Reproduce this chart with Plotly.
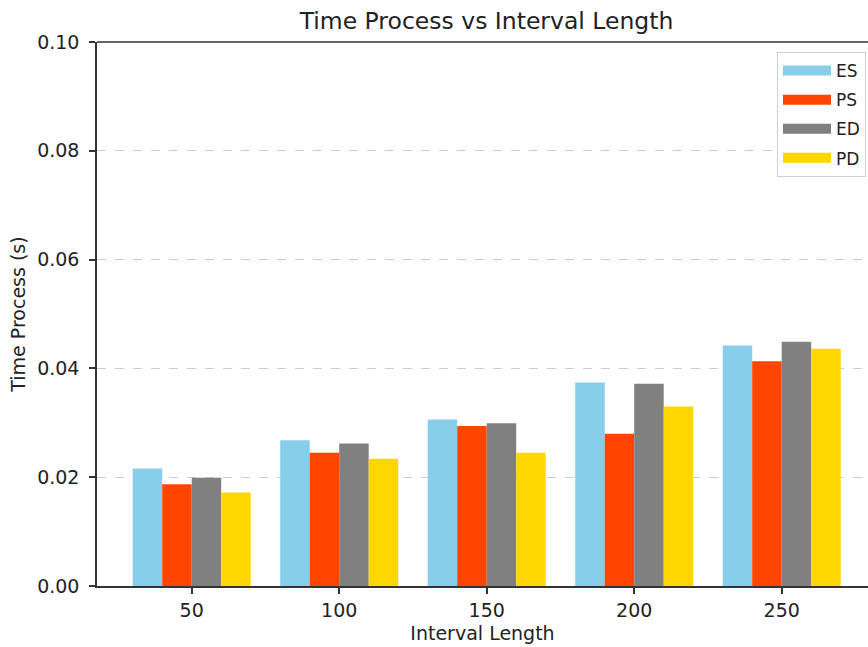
import plotly.graph_objects as go

categories = ["50", "100", "150", "200", "250"]
series_names = ["ES", "PS", "ED", "PD"]
es = [0.0216, 0.0268, 0.0306, 0.0374, 0.0442]
ps = [0.0187, 0.0245, 0.0294, 0.0280, 0.0413]
ed = [0.0199, 0.0262, 0.0299, 0.0372, 0.0449]
pd_ = [0.0172, 0.0234, 0.0245, 0.0330, 0.0436]
values = [es, ps, ed, pd_]
colors = ["#87CEEB", "#FF4500", "#808080", "#FFD700"]
yticks = [0.0, 0.02, 0.04, 0.06, 0.08, 0.10]

FONT = "DejaVu Sans"
fig = go.Figure()
for name, vals, col in zip(series_names, values, colors):
    fig.add_trace(go.Bar(x=categories, y=vals, name=name, marker_color=col,
                         marker_line_width=0, showlegend=False))
# legend entries (wide rectangular swatches)
for name, col in zip(series_names, colors):
    fig.add_trace(go.Scatter(x=[None], y=[None], mode="lines", name=name,
                             legendgroup=name,
                             line=dict(color=col, width=14)))

fig.update_layout(
    width=868, height=647,
    margin=dict(l=97, r=0, t=42, b=61),
    paper_bgcolor="white", plot_bgcolor="white",
    barmode="group", bargap=0.2, bargroupgap=0,
    font=dict(family=FONT, color="#222", size=19),
    title=dict(text="Time Process vs Interval Length", x=(486.5) / 868, xanchor="center",
               y=1 - 21 / 647, yanchor="middle", font=dict(size=23.5, color="#222")),
    legend=dict(x=0.9974, xanchor="right", y=0.9816, yanchor="top",
                bgcolor="white", bordercolor="#d0d0d0", borderwidth=1,
                font=dict(size=17, color="#222"), itemwidth=48,
                tracegroupgap=4),
    showlegend=True,
)
fig.update_xaxes(
    type="category", range=[-0.642, 4.585],
    showline=True, linecolor="#333", linewidth=1.5,
    ticks="outside", ticklen=6, tickcolor="#333", tickwidth=1.5,
    showgrid=False, zeroline=False,
    title=dict(text="Interval Length", font=dict(size=19), standoff=7),
    tickfont=dict(size=19),
)
fig.update_yaxes(
    range=[0, 0.1], tickvals=yticks, tickformat=".2f",
    showline=True, linecolor="#333", linewidth=1.5,
    ticks="outside", ticklen=6, tickcolor="#333", tickwidth=1.5,
    showgrid=True, gridcolor="#cccccc", griddash="dash", gridwidth=1,
    zeroline=False,
    title=dict(text="Time Process (s)", font=dict(size=19), standoff=6),
    tickfont=dict(size=19), ticklabelstandoff=6,
)
# top spine
fig.add_shape(type="line", xref="paper", yref="paper", x0=0, x1=1, y0=1, y1=1,
              line=dict(color="#333", width=1.5))

fig.write_html("out.html", config={"displayModeBar": False},
               post_script="document.body.style.margin='0';")
